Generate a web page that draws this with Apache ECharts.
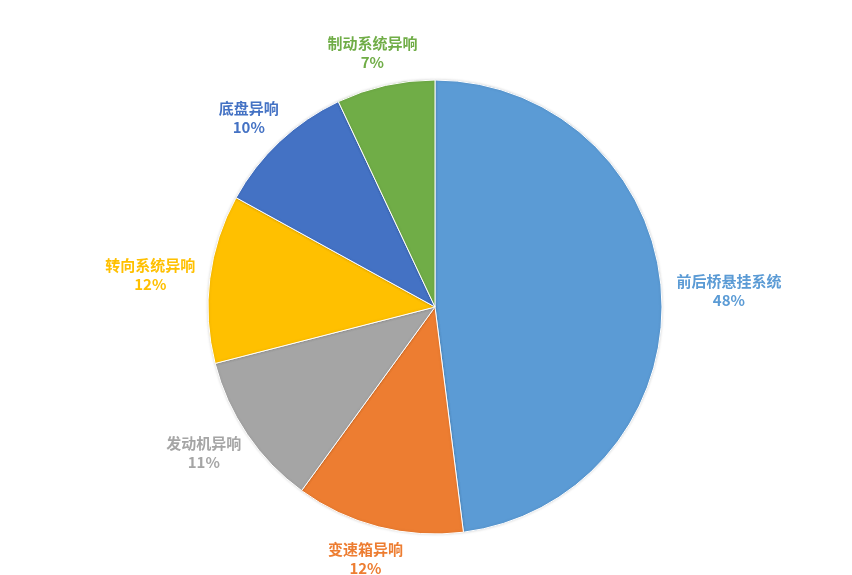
<!DOCTYPE html>
<html><head><meta charset="utf-8">
<script src="https://cdn.jsdelivr.net/npm/echarts@6/dist/echarts.min.js"></script>
<style>html,body{margin:0;padding:0;background:#fff}#c{width:852px;height:575px}</style>
</head><body><div id="c"></div>
<script>
var categories = ['前后桥悬挂系统','变速箱异响','发动机异响','转向系统异响','底盘异响','制动系统异响'];
var values = [48, 12, 11, 12, 10, 7];
var colors = ['#5B9BD5','#ED7D31','#A5A5A5','#FFC000','#4472C4','#70AD47'];

var CX = 435, CY = 307, R = 227, GAP = 14, FS = 15;
var total = values.reduce(function(a,b){return a+b;},0);
var mids = [];
(function(){var acc=0;for(var i=0;i<values.length;i++){var m=(acc+values[i]/2)/total*Math.PI*2;mids.push(m);acc+=values[i];}})();

var chart = echarts.init(document.getElementById('c'));
chart.setOption({
  animation:false,
  series:[{
    type:'pie',
    center:[CX,CY],
    radius:R,
    startAngle:90,
    clockwise:true,
    avoidLabelOverlap:false,
    data: categories.map(function(n,i){
      var st = {width:n.length*FS+2, align:'center', color:colors[i], fontFamily:'"Noto Sans CJK SC", sans-serif', fontWeight:'bold', fontSize:FS, lineHeight:19};
      return {name:n,value:values[i],itemStyle:{color:colors[i]},label:{color:colors[i],rich:{n:st}}};
    }),
    itemStyle:{borderColor:'#fff',borderWidth:1,shadowBlur:3,shadowColor:'rgba(0,0,0,0.15)'},
    label:{show:true,position:'outside',formatter:'{n|{b}}\n{n|{c}%}',fontFamily:'"Noto Sans CJK SC", sans-serif',fontWeight:'bold',fontSize:FS,lineHeight:19},
    labelLine:{show:false,length:10,length2:0},
    emphasis:{disabled:true},
    labelLayout:function(p){
      var a = mids[p.dataIndex];
      var ux = Math.sin(a), uy = -Math.cos(a);
      var r = p.labelRect, w = r.width, h = r.height;
      var tx = CX + ux*(R+GAP) + ux*w/2, ty = CY + uy*(R+GAP) + uy*h/2;
      return {dx: tx - (r.x + w/2), dy: ty - (r.y + h/2)};
    }
  }]
});
</script></body></html>
